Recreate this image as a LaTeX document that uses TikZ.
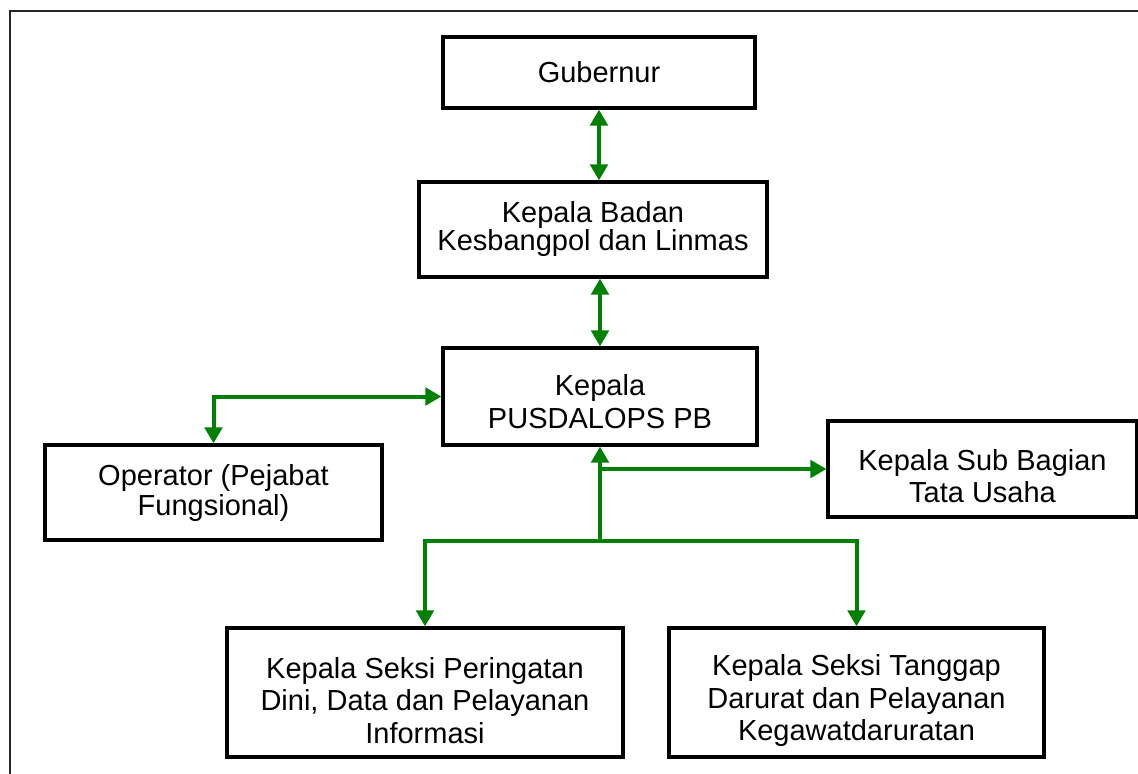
\documentclass[tikz,border=0pt]{standalone}
\usepackage{fontspec}
\setmainfont{Liberation Sans}
\usetikzlibrary{arrows.meta}
\definecolor{arrgreen}{RGB}{0,128,0}
\tikzset{
  box/.style={draw=black, line width=2.4pt, fill=white, inner sep=0pt},
  txt/.style={align=center, inner sep=0pt, text=black},
  conn/.style={draw=arrgreen, line width=3pt, arrows={-Triangle[length=12pt,width=13pt]}},
  conn2/.style={draw=arrgreen, line width=3pt, arrows={Triangle[length=12pt,width=13pt]-Triangle[length=12pt,width=13pt]}},
}
\newcommand{\fs}[1]{\fontsize{21.75}{#1}\selectfont}
\begin{document}
\begin{tikzpicture}[x=0.75pt,y=-0.75pt]
\useasboundingbox (0,0) rectangle (1138,774);
\draw[line width=1.6pt, draw=black!85] (10,774) -- (10,11) -- (1138,11);

\node[box, minimum width=234pt, minimum height=53.25pt] (gub) at (599,72.5) {};
\node[box, minimum width=261pt, minimum height=71.25pt] (badan) at (593,229.5) {};
\node[box, minimum width=235.5pt, minimum height=72.75pt] (pus) at (600,396.5) {};
\node[box, minimum width=252.75pt, minimum height=71.25pt] (op) at (213.5,492.5) {};
\node[box, minimum width=231.75pt, minimum height=72pt] (sub) at (982.5,469) {};
\node[box, minimum width=297pt, minimum height=96.75pt] (lb) at (425,692.5) {};
\node[box, minimum width=281.25pt, minimum height=96.75pt] (rb) at (856.5,692.5) {};

\node[txt, font=\fs{21}] (gubt) at (gub.center) {Gubernur};
\node[txt, font=\fs{21}] (badant) at (badan.center) {Kepala Badan\\Kesbangpol dan Linmas};
\node[txt, font=\fs{24.75}, yshift=-3.5pt] (pust) at (pus.center) {Kepala\\PUSDALOPS PB};
\node[txt, font=\fs{22.5}] (opt) at (op.center) {Operator (Pejabat\\Fungsional)};
\node[txt, font=\fs{24}, yshift=-5pt] (subt) at (sub.center) {Kepala Sub Bagian\\Tata Usaha};
\node[txt, font=\fs{24.5}, yshift=-6pt] (lbt) at (lb.center) {Kepala Seksi Peringatan\\Dini, Data dan Pelayanan\\Informasi};
\node[txt, font=\fs{24.5}, yshift=-6pt] (rbt) at (rb.center) {Kepala Seksi Tanggap\\Darurat dan Pelayanan\\Kegawatdaruratan};

\coordinate (trunk) at (600,541);
\coordinate (br) at (600,469);

\draw[conn2] (gub.south) -- (gub.south |- badan.north);
\draw[conn2] (pus.north) -- (pus.north |- badan.south);
\draw[conn2] (op.north) |- (pus.west);
\draw[conn] (trunk) -- (pus.south);
\draw[conn] (br) -- (sub.west);
\draw[conn] (trunk) -| (lb.north);
\draw[conn] (trunk) -| (rb.north);
\end{tikzpicture}
\end{document}
